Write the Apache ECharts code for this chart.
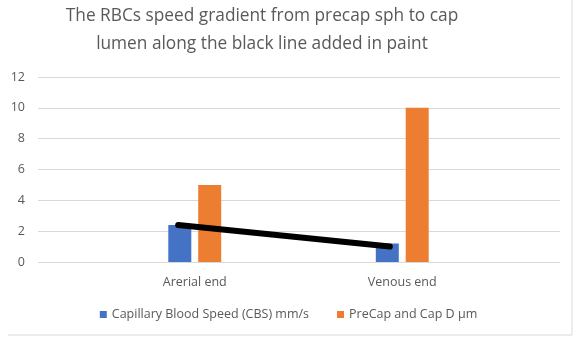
<!DOCTYPE html>
<html><head><meta charset="utf-8">
<script src="https://cdn.jsdelivr.net/npm/echarts@6/dist/echarts.min.js"></script>
<style>html,body{margin:0;padding:0;background:#fff}#c{width:577px;height:341px}</style>
</head><body><div id="c"></div>
<script>
const categories = ["Arerial end", "Venous end"];
const cbsValues = [2.4, 1.2];
const diameterValues = [5, 10];
const seriesNames = ["Capillary Blood Speed (CBS) mm/s", "PreCap and Cap D µm"];
const paintLineX = [-0.08, 0.94];
const paintLineY = [2.4, 1.0];
const yTicks = [0, 2, 4, 6, 8, 10, 12];

const chart = echarts.init(document.getElementById('c'));
const txt = '#595959';
const font = 'Open Sans';
chart.setOption({
  animation: false,
  backgroundColor: '#fff',
  graphic: [
    { type: 'text', x: 262, y: 2,
      style: { text: 'The RBCs speed gradient from precap sph to cap\nlumen along the black line added in paint',
        fill: txt, font: '17.3px "Open Sans"', lineHeight: 28, textAlign: 'center', align: 'center' } },
    { type: 'line', shape: { x1: 572, y1: 0, x2: 572, y2: 335 }, style: { stroke: '#d9d9d9', lineWidth: 1 } },
    { type: 'line', shape: { x1: 8, y1: 335, x2: 572, y2: 335 }, style: { stroke: '#d9d9d9', lineWidth: 1 } }
  ],
  legend: {
    bottom: 15, left: 'center', itemWidth: 7, itemHeight: 7, itemGap: 28,
    icon: 'rect',
    textStyle: { color: txt, fontSize: 12.5, fontFamily: font },
    data: seriesNames
  },
  grid: [
    { left: 38, right: 17, top: 77, height: 185 },
    { left: 91, right: 71, top: 77, height: 185 }
  ],
  xAxis: [
    { gridIndex: 0, type: 'value', min: 0, max: 1, show: false },
    { gridIndex: 1, type: 'category', data: categories,
      axisLine: { show: false }, axisTick: { show: false },
      axisLabel: { color: txt, fontSize: 12.5, fontFamily: font, margin: 14 } },
    { gridIndex: 1, type: 'value', min: -0.5, max: 1.5, show: false }
  ],
  yAxis: [
    { gridIndex: 0, type: 'value', min: yTicks[0], max: yTicks[yTicks.length - 1], interval: 2,
      axisLine: { show: false }, axisTick: { show: false },
      axisLabel: { color: txt, fontSize: 12.5, fontFamily: font, margin: 13 },
      splitLine: { lineStyle: { color: '#d9d9d9', width: 1 } } },
    { gridIndex: 1, type: 'value', min: 0, max: 12, interval: 2, show: false, splitLine: { show: false } }
  ],
  series: [
    { name: seriesNames[0], type: 'bar', xAxisIndex: 1, yAxisIndex: 1, data: cbsValues,
      barWidth: 23, barGap: '30%', itemStyle: { color: '#4472C4' } },
    { name: seriesNames[1], type: 'bar', xAxisIndex: 1, yAxisIndex: 1, data: diameterValues,
      barWidth: 23, barGap: '30%', itemStyle: { color: '#ED7D31' } },
    { name: 'paint', type: 'line', xAxisIndex: 2, yAxisIndex: 1,
      data: paintLineX.map((x, i) => [x, paintLineY[i]]),
      symbol: 'none', lineStyle: { color: '#000', width: 6, cap: 'round' }, z: 5 }
  ]
});
</script></body></html>
